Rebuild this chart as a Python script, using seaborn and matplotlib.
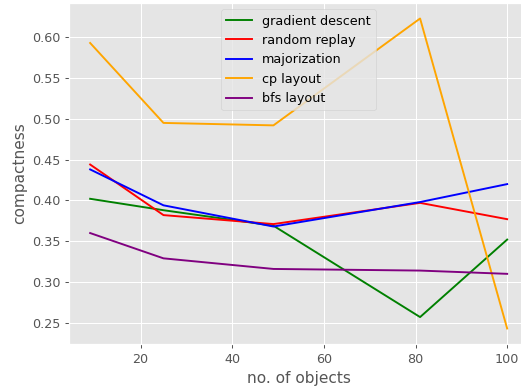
import matplotlib
matplotlib.use("Agg")
import matplotlib.pyplot as plt
import seaborn as sns
import pandas as pd

objects = [9, 25, 49, 81, 100]
gradient_descent = [0.402, 0.388, 0.369, 0.257, 0.352]
random_replay = [0.444, 0.382, 0.371, 0.397, 0.377]
majorization = [0.438, 0.394, 0.368, 0.398, 0.420]
cp_layout = [0.593, 0.495, 0.492, 0.623, 0.243]
bfs_layout = [0.360, 0.329, 0.316, 0.314, 0.310]

series = {
    "gradient descent": gradient_descent,
    "random replay": random_replay,
    "majorization": majorization,
    "cp layout": cp_layout,
    "bfs layout": bfs_layout,
}
colors = ["green", "red", "blue", "orange", "purple"]

rows = []
for name, vals in series.items():
    for x, v in zip(objects, vals):
        rows.append({"no. of objects": x, "compactness": v, "method": name})
df = pd.DataFrame(rows)

plt.style.use("ggplot")
DPI = 92
fig = plt.figure(figsize=(521 / DPI, 389 / DPI), dpi=DPI)
ax = fig.add_axes([69.3 / 521, 45 / 389, (528 - 69.3) / 521, (344 - 3) / 389])
sns.lineplot(data=df, x="no. of objects", y="compactness", hue="method",
             palette=colors, ax=ax, linewidth=1.5)
ax.legend(loc="upper center")
ax.set_xticks([20, 40, 60, 80, 100])
fig.savefig("out.png", dpi=DPI)
